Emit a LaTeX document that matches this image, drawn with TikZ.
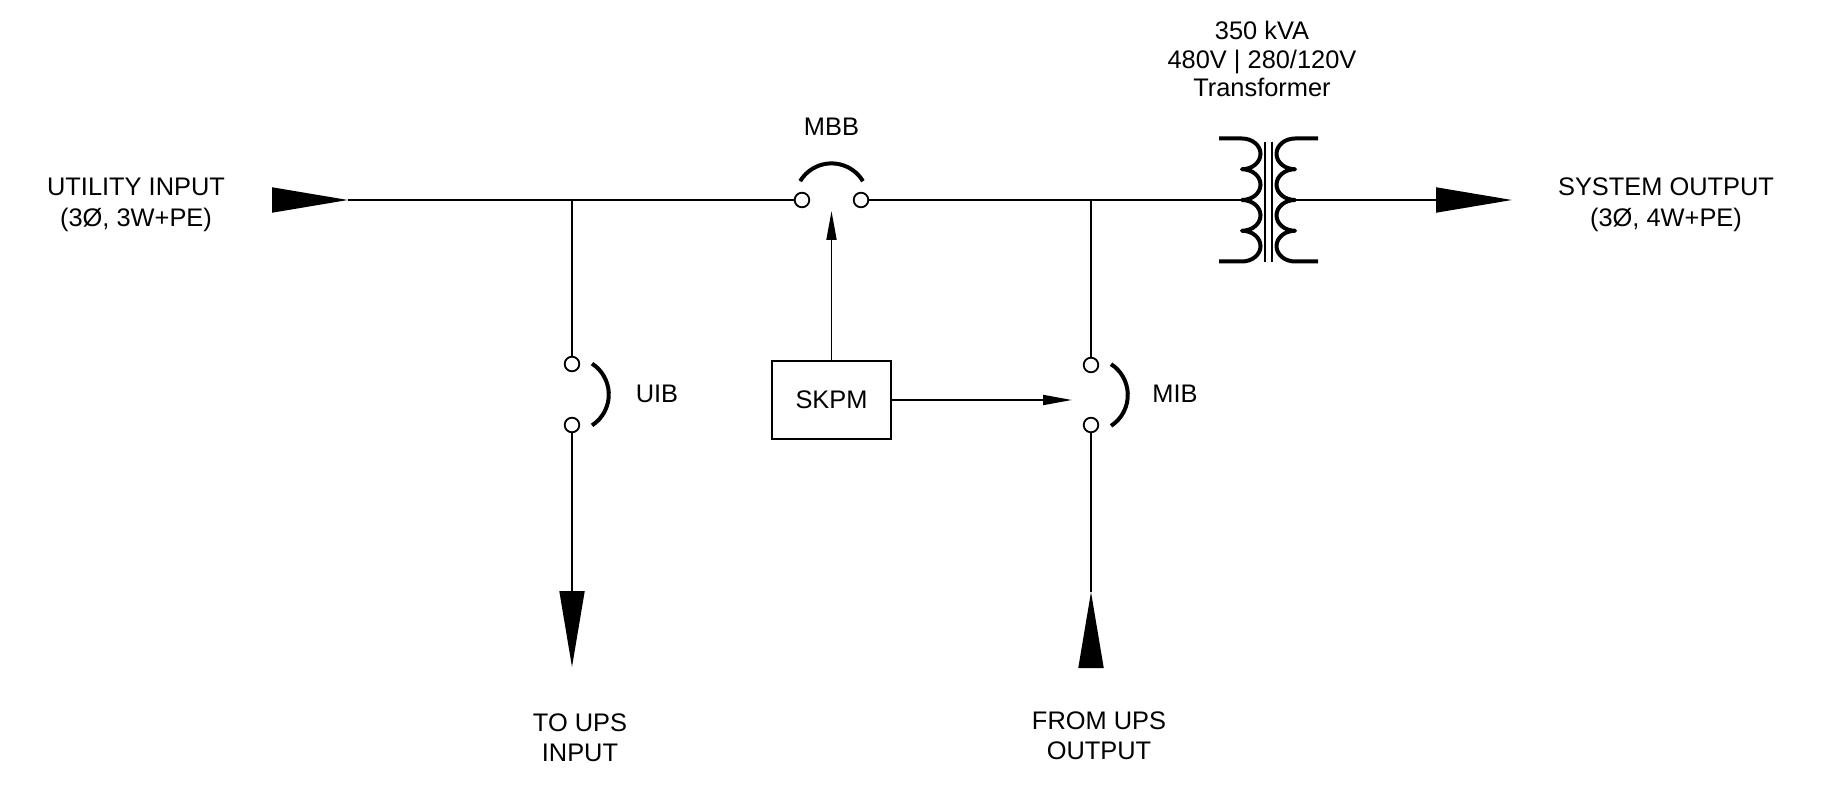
\documentclass[tikz,border=0pt]{standalone}
\usepackage{fontspec}
\setmainfont{Liberation Sans}
\usetikzlibrary{arrows.meta}
\begin{document}
\begin{tikzpicture}[x=1pt,y=-1pt,
  wire/.style={line width=1.8pt, line cap=butt},
  swarc/.style={line width=4pt},
  coil/.style={line width=4pt, line join=round},
  term/.style={circle, draw, line width=1.8pt, fill=white, minimum size=14.6pt, inner sep=0pt},
  bigarrow/.style={wire, -{Triangle[length=76pt,width=25pt]}},
  smallarrow/.style={wire, -{Triangle[length=29pt,width=10pt]}},
  lbl/.style={font=\fontsize{25.4}{31}\selectfont, align=center, inner sep=0pt},
  lblb/.style={font=\fontsize{25.4}{30}\selectfont, align=center, inner sep=0pt},
  lblt/.style={font=\fontsize{25.4}{28.5}\selectfont, align=center, inner sep=0pt},
  boxnode/.style={draw, line width=1.8pt, minimum width=119pt, minimum height=78pt, inner sep=0pt, font=\fontsize{25.4}{30}\selectfont}
]
\useasboundingbox (0,0) rectangle (1828,791);

% coordinates
\coordinate (inBase) at (275,200);
\coordinate (inTip) at (348,200);
\coordinate (uibJ) at (572,200);
\coordinate (mibJ) at (1091,200);
\coordinate (xfIn) at (1242,200);
\coordinate (xfOut) at (1295,200);
\coordinate (outTip) at (1512,200);
\coordinate (uibTip) at (572,667);
\coordinate (mibBase) at (1091,664);
\coordinate (mibTip) at (1091,592);
\coordinate (mbbTip) at (831.5,211);
\coordinate (mibCtl) at (1072,400);

% terminals
\node[term] (mbbL) at (802,200) {};
\node[term] (mbbR) at (861,200) {};
\node[term] (uibT) at (572,364) {};
\node[term] (uibB) at (572,425) {};
\node[term] (mibT) at (1091,365) {};
\node[term] (mibB) at (1091,425) {};

% SKPM
\node[boxnode] (skpm) at (831.5,400) {SKPM};

% bus
\draw[bigarrow] (inBase) -- (inTip);
\draw[wire] (inTip) -- (mbbL);
\draw[wire] (mbbR) -- (xfIn);
\draw[bigarrow] (xfOut) -- (outTip);

% branches
\draw[wire] (uibJ) -- (uibT);
\draw[bigarrow] (uibB) -- (uibTip);
\draw[wire] (mibJ) -- (mibT);
\draw[bigarrow] (mibBase) -- (mibTip);
\draw[wire] (mibTip) -- (mibB);

% control
\draw[smallarrow] (skpm.north) -- (mbbTip);
\draw[smallarrow] (skpm.east |- mibCtl) -- (mibCtl);

% breaker arcs
\draw[swarc] (862.9,181.15) arc[start angle=31,end angle=149,radius=36.6pt];
\draw[swarc] (592.04,425.36) arc[start angle=-57,end angle=57,radius=36.8pt];
\draw[swarc] (1111.04,425.86) arc[start angle=-57,end angle=57,radius=36.8pt];

% transformer
\draw[coil] (1219,138.5) -- (1242,138.5)
  arc[start angle=90,end angle=-90,x radius=18.5pt,y radius=15.375pt]
  arc[start angle=90,end angle=-90,x radius=18.5pt,y radius=15.375pt]
  arc[start angle=90,end angle=-90,x radius=18.5pt,y radius=15.375pt]
  arc[start angle=90,end angle=-90,x radius=18.5pt,y radius=15.375pt]
  -- (1219,261.5);
\draw[coil] (1318,138.5) -- (1295,138.5)
  arc[start angle=90,end angle=270,x radius=18.5pt,y radius=15.375pt]
  arc[start angle=90,end angle=270,x radius=18.5pt,y radius=15.375pt]
  arc[start angle=90,end angle=270,x radius=18.5pt,y radius=15.375pt]
  arc[start angle=90,end angle=270,x radius=18.5pt,y radius=15.375pt]
  -- (1318,261.5);
\draw[wire] (1265,142) -- (1265,262);
\draw[wire] (1272,142) -- (1272,262);

% labels
\node[lbl] (utilLbl) at (136,204.4) {UTILITY INPUT\\(3Ø, 3W+PE)};
\node[lbl] (sysLbl) at (1666,204.4) {SYSTEM OUTPUT\\(3Ø, 4W+PE)};
\node[lblt] (xfLbl) at (1262,59) {350 kVA\\480V | 280/120V\\Transformer};
\node[lbl] (mbbLbl) at (831.5,127) {MBB};
\node[lbl] (uibLbl) at (657,394) {UIB};
\node[lbl] (mibLbl) at (1175,394) {MIB};
\node[lblb] (toLbl) at (580,737.6) {TO UPS\\INPUT};
\node[lblb] (fromLbl) at (1099,736) {FROM UPS\\OUTPUT};
\end{tikzpicture}
\end{document}
